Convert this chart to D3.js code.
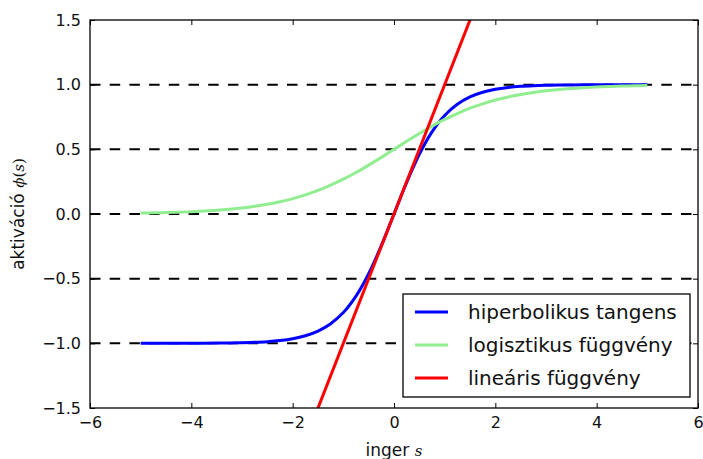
<!DOCTYPE html>
<html>
<head>
<meta charset="utf-8">
<script src="https://cdn.jsdelivr.net/npm/d3@7"></script>
<style>
  html, body { margin: 0; padding: 0; background: #fff; }
  svg { display: block; font-family: "DejaVu Sans", sans-serif; }
</style>
</head>
<body>
<svg id="chart" width="703" height="459"></svg>
<script>
// Input values s (shared by both smooth curves)
const sValues = [-5, -4.75, -4.5, -4.25, -4, -3.75, -3.5, -3.25, -3, -2.75, -2.5, -2.25, -2, -1.75, -1.5, -1.25, -1, -0.75, -0.5, -0.25,
  0, 0.25, 0.5, 0.75, 1, 1.25, 1.5, 1.75, 2, 2.25, 2.5, 2.75, 3, 3.25, 3.5, 3.75, 4, 4.25, 4.5, 4.75, 5];

// hiperbolikus tangens
const tanhValues = [-1.000, -1.000, -1.000, -1.000, -0.999, -0.999, -0.998, -0.997, -0.995, -0.992, -0.987, -0.978, -0.964, -0.941, -0.905, -0.848, -0.762, -0.635, -0.462, -0.245,
  0.000, 0.245, 0.462, 0.635, 0.762, 0.848, 0.905, 0.941, 0.964, 0.978, 0.987, 0.992, 0.995, 0.997, 0.998, 0.999, 0.999, 1.000, 1.000, 1.000, 1.000];

// logisztikus függvény
const logisticValues = [0.007, 0.009, 0.011, 0.014, 0.018, 0.023, 0.029, 0.037, 0.047, 0.060, 0.076, 0.095, 0.119, 0.148, 0.182, 0.223, 0.269, 0.321, 0.378, 0.438,
  0.500, 0.562, 0.622, 0.679, 0.731, 0.777, 0.818, 0.852, 0.881, 0.905, 0.924, 0.940, 0.953, 0.963, 0.971, 0.977, 0.982, 0.986, 0.989, 0.991, 0.993];

// lineáris függvény
const linearS = [-5, 5];
const linearValues = [-5, 5];

// Horizontal reference levels
const refLevels = [-1, -0.5, 0, 0.5, 1];

const xTicks = [-6, -4, -2, 0, 2, 4, 6];
const yTicks = [-1.5, -1.0, -0.5, 0.0, 0.5, 1.0, 1.5];

const legendLabels = ["hiperbolikus tangens", "logisztikus függvény", "lineáris függvény"];
const seriesColors = ["#0000ff", "#90ee90", "#ff0000"];

const plot = { left: 90, right: 698, top: 20, bottom: 408 };

const svg = d3.select("#chart");
const x = d3.scaleLinear().domain([-6, 6]).range([plot.left, plot.right]);
const y = d3.scaleLinear().domain([-1.5, 1.5]).range([plot.bottom, plot.top]);

svg.append("defs").append("clipPath").attr("id", "plotClip")
  .append("rect")
  .attr("x", plot.left).attr("y", plot.top)
  .attr("width", plot.right - plot.left).attr("height", plot.bottom - plot.top);

const g = svg.append("g").attr("clip-path", "url(#plotClip)");

// dashed reference lines
g.selectAll("line.ref").data(refLevels).join("line")
  .attr("class", "ref")
  .attr("x1", x(-6)).attr("x2", x(6))
  .attr("y1", d => y(d)).attr("y2", d => y(d))
  .attr("stroke", "#000").attr("stroke-width", 2)
  .attr("stroke-dasharray", "10.5,9.2");

const line = d3.line().x(d => x(d[0])).y(d => y(d[1])).curve(d3.curveCatmullRom);

const series = [
  sValues.map((s, i) => [s, tanhValues[i]]),
  sValues.map((s, i) => [s, logisticValues[i]]),
  linearS.map((s, i) => [s, linearValues[i]])
];

series.forEach((pts, i) => {
  g.append("path")
    .datum(pts)
    .attr("d", line)
    .attr("fill", "none")
    .attr("stroke", seriesColors[i])
    .attr("stroke-width", 3)
    .attr("stroke-linejoin", "round");
});

// axes: ticks pointing inward on all four sides
const tickLen = 5;
const axB = svg.append("g").attr("transform", `translate(0,${plot.bottom})`)
  .call(d3.axisBottom(x).tickValues(xTicks).tickSizeInner(-tickLen).tickSizeOuter(0).tickPadding(9)
    .tickFormat(d => d3.format("d")(d).replace("-", "\u2212")));
const axT = svg.append("g").attr("transform", `translate(0,${plot.top})`)
  .call(d3.axisTop(x).tickValues(xTicks).tickSizeInner(-tickLen).tickSizeOuter(0).tickFormat(""));
const axL = svg.append("g").attr("transform", `translate(${plot.left},0)`)
  .call(d3.axisLeft(y).tickValues(yTicks).tickSizeInner(-tickLen).tickSizeOuter(0).tickPadding(9)
    .tickFormat(d => d3.format(".1f")(d).replace("-", "\u2212")));
const axR = svg.append("g").attr("transform", `translate(${plot.right},0)`)
  .call(d3.axisRight(y).tickValues(yTicks).tickSizeInner(-tickLen).tickSizeOuter(0).tickFormat(""));

[axB, axT, axL, axR].forEach(a => {
  a.select(".domain").remove();
  a.selectAll(".tick line").attr("stroke", "#000").attr("stroke-width", 1);
  a.selectAll("text").attr("font-size", 16).attr("fill", "#111")
    .attr("font-family", "DejaVu Sans, sans-serif");
});

// frame
svg.append("rect")
  .attr("x", plot.left).attr("y", plot.top)
  .attr("width", plot.right - plot.left).attr("height", plot.bottom - plot.top)
  .attr("fill", "none").attr("stroke", "#000").attr("stroke-width", 1.3);

// axis titles
const xTitle = svg.append("text")
  .attr("x", (plot.left + plot.right) / 2).attr("y", 456)
  .attr("text-anchor", "middle").attr("font-size", 17).attr("fill", "#111");
xTitle.append("tspan").text("inger ");
xTitle.append("tspan").attr("font-family", "DejaVu Serif, serif").attr("font-style", "italic").attr("font-size", 15).text("s");

const yTitle = svg.append("text")
  .attr("transform", `translate(24,${(plot.top + plot.bottom) / 2}) rotate(-90)`)
  .attr("text-anchor", "middle").attr("font-size", 17).attr("fill", "#111");
yTitle.append("tspan").text("aktiváció ");
yTitle.append("tspan").attr("font-family", "DejaVu Serif, serif").attr("font-style", "italic").attr("font-size", 15).text("\u03d5");
yTitle.append("tspan").attr("font-family", "DejaVu Serif, serif").attr("font-size", 15).text("(");
yTitle.append("tspan").attr("font-family", "DejaVu Serif, serif").attr("font-style", "italic").attr("font-size", 15).text("s");
yTitle.append("tspan").attr("font-family", "DejaVu Serif, serif").attr("font-size", 15).text(")");

// legend
const lg = svg.append("g");
lg.append("rect")
  .attr("x", 403).attr("y", 294).attr("width", 287).attr("height", 103)
  .attr("fill", "#fff").attr("stroke", "#000").attr("stroke-width", 1.3);
legendLabels.forEach((label, i) => {
  const cy = 312 + i * 33;
  lg.append("line")
    .attr("x1", 415).attr("x2", 448).attr("y1", cy).attr("y2", cy)
    .attr("stroke", seriesColors[i]).attr("stroke-width", 3);
  lg.append("text")
    .attr("x", 468).attr("y", cy).attr("dy", "0.35em")
    .attr("font-size", 20).attr("fill", "#111")
    .text(label);
});
</script>
</body>
</html>
